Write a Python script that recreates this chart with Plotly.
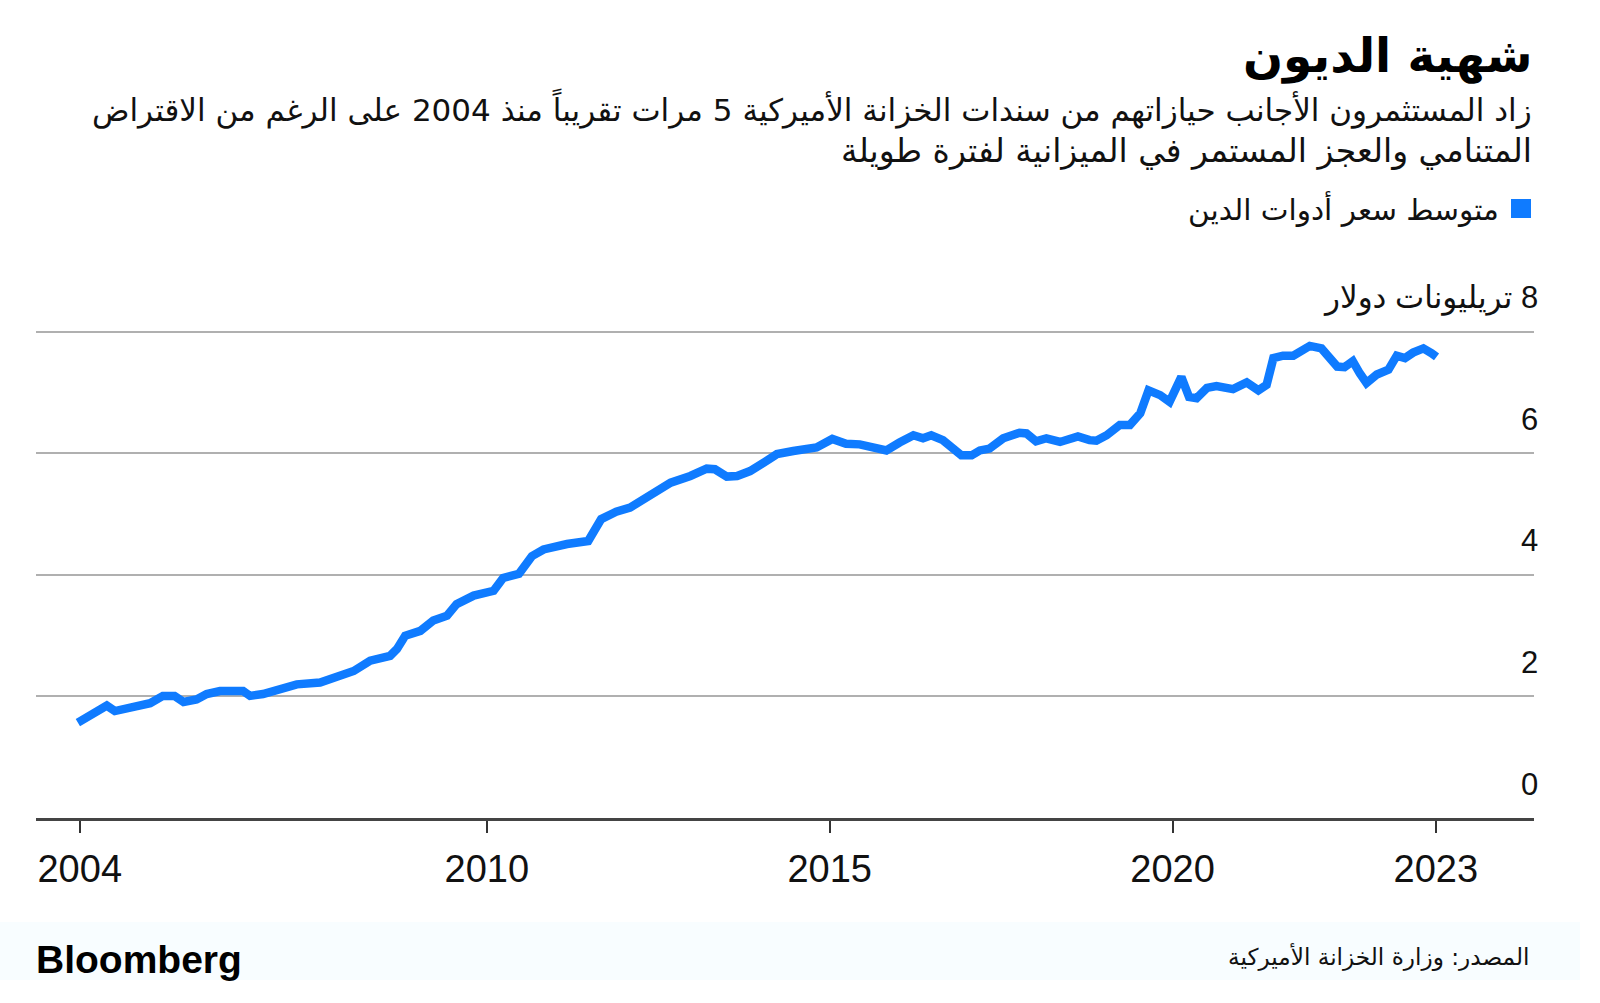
import plotly.graph_objects as go

# ---------------- data ----------------
dates = [
    "2004-01-15", "2004-03-17", "2004-05-10", "2004-06-17", "2004-07-30", "2004-10-01", "2004-12-09",
    "2005-02-03", "2005-04-12", "2005-06-13", "2005-07-31", "2005-10-08", "2005-12-01",
    "2006-02-10", "2006-06-13", "2006-07-20", "2006-09-27", "2006-12-27",
    "2007-03-26", "2007-07-28", "2007-10-05",
    "2008-01-23", "2008-04-20", "2008-08-04", "2008-09-09", "2008-10-23",
    "2009-01-12", "2009-03-22", "2009-06-03", "2009-07-24", "2009-10-23",
    "2010-02-06", "2010-03-29", "2010-06-21", "2010-08-29", "2010-10-30",
    "2011-03-04", "2011-06-25", "2011-09-02", "2011-11-21",
    "2012-02-03", "2012-05-19", "2012-09-06", "2012-12-20",
    "2013-03-17", "2013-04-30", "2013-07-02", "2013-08-26", "2013-11-03",
    "2014-01-15", "2014-03-26", "2014-06-21", "2014-10-23",
    "2015-01-15", "2015-03-29", "2015-06-10", "2015-08-18", "2015-10-30",
    "2016-01-08", "2016-03-22", "2016-05-12", "2016-06-25", "2016-08-26", "2016-10-19", "2016-12-02",
    "2017-01-26", "2017-03-11", "2017-05-01", "2017-07-13", "2017-10-08", "2017-11-14",
    "2018-01-04", "2018-02-28", "2018-05-12", "2018-08-15", "2018-10-16", "2018-11-21",
    "2019-01-15", "2019-03-26", "2019-05-19", "2019-07-13", "2019-08-26", "2019-10-27", "2019-12-16",
    "2020-02-17", "2020-03-29", "2020-05-08", "2020-07-02", "2020-08-22", "2020-11-18",
    "2021-01-30", "2021-04-02", "2021-05-16", "2021-06-21", "2021-08-11", "2021-10-05", "2021-11-10",
    "2022-01-01", "2022-03-04", "2022-04-20", "2022-05-27", "2022-07-05", "2022-08-18", "2022-09-24",
    "2022-10-30", "2022-12-24",
    "2023-02-24", "2023-04-09", "2023-05-23", "2023-07-05", "2023-08-29", "2023-10-12", "2023-11-07",
]
holdings = [
    1.57, 1.68, 1.76, 1.85, 1.76, 1.80, 1.86,
    1.89, 2.01, 2.01, 1.91, 1.95, 2.04,
    2.09, 2.09, 2.01, 2.04, 2.12,
    2.20, 2.23, 2.31,
    2.42, 2.59, 2.67, 2.78, 3.00,
    3.08, 3.25, 3.33, 3.52, 3.66,
    3.74, 3.95, 4.02, 4.31, 4.42,
    4.51, 4.56, 4.92, 5.04,
    5.11, 5.30, 5.52, 5.63,
    5.75, 5.74, 5.62, 5.63, 5.71,
    5.85, 5.99, 6.04, 6.10,
    6.24, 6.16, 6.15, 6.11, 6.05,
    6.18, 6.30, 6.25, 6.30, 6.22, 6.08, 5.97,
    5.97, 6.05, 6.08, 6.25, 6.34, 6.33,
    6.20, 6.25, 6.19, 6.28, 6.22, 6.21,
    6.30, 6.47, 6.47, 6.66, 7.04, 6.96, 6.85,
    7.26, 6.93, 6.91, 7.08, 7.11, 7.06,
    7.17, 7.04, 7.13, 7.57, 7.61, 7.61, 7.68,
    7.77, 7.73, 7.54, 7.43, 7.42, 7.52, 7.32,
    7.16, 7.30,
    7.38, 7.61, 7.57, 7.66, 7.73, 7.65, 7.59,
]

x_tick_vals = ["2004-01-25", "2010-01-01", "2015-01-01", "2020-01-01", "2023-11-03"]
x_tick_text = ["2004", "2010", "2015", "2020", "2023"]
y_tick_vals = [0, 2, 4, 6, 8]
y_tick_text = ["0", "2", "4", "6", "8 تريليونات دولار"]

title_text = "شهية الديون"
subtitle_lines = [
    "زاد المستثمرون الأجانب حيازاتهم من سندات الخزانة الأميركية 5 مرات تقريباً منذ 2004 على الرغم من الاقتراض",
    "المتنامي والعجز المستمر في الميزانية لفترة طويلة",
]
legend_label = "متوسط سعر أدوات الدين"
source_text = "المصدر: وزارة الخزانة الأميركية"
brand_text = "Bloomberg"

# ---------------- layout helpers (pixel -> paper) ----------------
W, H = 1600, 1003
L, R, T, B = 36, 66, 331, 185
PW, PH = W - L - R, H - T - B


def px(x):
    return (x - L) / PW


def py(y):
    return (H - B - y) / PH


BLUE = "#0f7bff"
GRID = "#b0b0b0"
AR_FONT = "DejaVu Sans"
NUM_FONT = "Liberation Sans, DejaVu Sans"
TXT = "#111111"

fig = go.Figure()
fig.add_trace(go.Scatter(
    x=dates, y=holdings, mode="lines",
    line=dict(color=BLUE, width=8.5), showlegend=False, hoverinfo="skip",
))

annotations = []
# y labels sitting above gridlines, right aligned
for v, t in zip(y_tick_vals, y_tick_text):
    annotations.append(dict(
        x=1, xref="paper", y=v, yref="y", text="\u200F" + t if not t.isdigit() else t,
        xanchor="right", yanchor="middle", yshift=34, xshift=6, showarrow=False,
        font=dict(family=NUM_FONT, size=31, color=TXT),
    ))

annotations += [
    dict(x=px(1534), y=py(56), xref="paper", yref="paper", text="<b>" + title_text + "</b>",
         xanchor="right", yanchor="middle", showarrow=False,
         font=dict(family=AR_FONT, size=47, color="#000000")),
    dict(x=px(1534), y=py(108), xref="paper", yref="paper", text=subtitle_lines[0],
         xanchor="right", yanchor="middle", showarrow=False,
         font=dict(family=AR_FONT, size=31, color=TXT)),
    dict(x=px(1534), y=py(150), xref="paper", yref="paper", text=subtitle_lines[1],
         xanchor="right", yanchor="middle", showarrow=False,
         font=dict(family=AR_FONT, size=33, color=TXT)),
    dict(x=px(1501), y=py(208), xref="paper", yref="paper", text=legend_label,
         xanchor="right", yanchor="middle", showarrow=False,
         font=dict(family=AR_FONT, size=29.5, color=TXT)),
    dict(x=px(1531), y=py(957), xref="paper", yref="paper", text=source_text,
         xanchor="right", yanchor="middle", showarrow=False,
         font=dict(family=AR_FONT, size=23.2, color=TXT)),
    dict(x=px(34), y=py(959), xref="paper", yref="paper", text="<b>" + brand_text + "</b>",
         xanchor="left", yanchor="middle", showarrow=False,
         font=dict(family="Liberation Sans", size=39, color="#000000")),
]

shapes = [
    # faint footer band
    dict(type="rect", xref="paper", yref="paper", x0=px(0), x1=px(1580), y0=py(922), y1=py(980),
         fillcolor="#f8fdff", line=dict(width=0), layer="below"),
    # legend swatch
    dict(type="rect", xref="paper", yref="paper", x0=px(1511), x1=px(1531), y0=py(218), y1=py(199),
         fillcolor=BLUE, line=dict(width=0)),
    # top gridline (plotly drops the grid line at the range edge)
    dict(type="line", xref="paper", yref="y", x0=0, x1=1, y0=y_tick_vals[-1], y1=y_tick_vals[-1],
         line=dict(color=GRID, width=2), layer="below"),
]

fig.update_layout(
    width=W, height=H,
    margin=dict(l=L, r=R, t=T, b=B, autoexpand=False),
    paper_bgcolor="white", plot_bgcolor="white",
    showlegend=False,
    annotations=annotations,
    shapes=shapes,
    xaxis=dict(
        type="date", range=["2003-06-06", "2025-04-09"],
        showgrid=False, zeroline=False,
        showline=True, linecolor="#444444", linewidth=2.5,
        ticks="outside", ticklen=12, tickwidth=2, tickcolor="#333333",
        tickvals=x_tick_vals, ticktext=x_tick_text,
        tickfont=dict(family=NUM_FONT, size=38, color=TXT),
        ticklabelstandoff=4,
        fixedrange=True,
    ),
    yaxis=dict(
        range=[0, 8.016], tickvals=y_tick_vals, showticklabels=False,
        showgrid=True, gridcolor=GRID, gridwidth=2,
        zeroline=False, showline=False, ticks="",
        fixedrange=True,
    ),
)

fig.write_html("out.html", config={"displayModeBar": False})
